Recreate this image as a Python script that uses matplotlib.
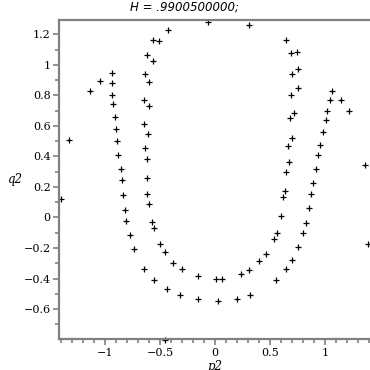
import numpy as np
import matplotlib.pyplot as plt
from matplotlib.ticker import MultipleLocator

# Poincare section points (p2, q2)
p2 = [-0.43, -0.564, -0.512, -0.615, -0.561, -0.939, -0.639, -1.043, -0.939, -0.597,
      -1.136, -0.933, -0.642, -0.924, -0.603, -0.912, -0.642, -0.897, -0.612, -1.327,
      -0.888, -0.636, -0.882, -0.615, -0.857, -0.848, -0.615,
      -1.40, -0.834, -0.615, -0.815, -0.597, -0.806, -0.570, -0.552, -0.77, -0.497,
      -0.733, -0.452, -0.379, -0.642, -0.303, -0.552, -0.434, -0.321, -0.452,
      0.894, 0.639, 0.621, 0.876, 0.857, 0.603, 0.83, 0.567, 0.803, 0.539,
      1.394, 0.757, 0.467, 0.403, 0.703, 0.312, 0.649, 0.233, -0.158, 0.006,
      0.067, 0.558, -0.158, 0.024, 0.203, 0.321,
      -0.067, 0.312, 0.649, 0.694, 0.748, 0.703, 0.757, 0.757, 0.694, 1.061,
      1.048, 1.148, 1.021, 1.221, 0.721, 0.685, 1.012, 0.985, 0.703, 0.667,
      0.958, 0.94, 0.676, 1.367, 0.649, 0.921]
q2 = [1.226, 1.16, 1.154, 1.064, 1.022, 0.947, 0.939, 0.893, 0.878, 0.886,
      0.831, 0.805, 0.772, 0.746, 0.733, 0.66, 0.614, 0.577, 0.549, 0.505,
      0.503, 0.452, 0.41, 0.384, 0.318, 0.246, 0.259,
      0.121, 0.147, 0.154, 0.049, 0.088, -0.024, -0.030, -0.070, -0.114, -0.173,
      -0.208, -0.226, -0.298, -0.34, -0.34, -0.412, -0.471, -0.511, -0.80,
      0.226, 0.174, 0.134, 0.154, 0.062, 0.011, -0.037, -0.103, -0.103, -0.142,
      -0.175, -0.195, -0.239, -0.287, -0.28, -0.346, -0.34, -0.373, -0.386, -0.405,
      -0.405, -0.412, -0.537, -0.55, -0.537, -0.511,
      1.279, 1.259, 1.16, 1.077, 1.081, 0.943, 0.976, 0.851, 0.805, 0.831,
      0.772, 0.772, 0.7, 0.7, 0.687, 0.654, 0.641, 0.562, 0.522, 0.47,
      0.476, 0.41, 0.364, 0.345, 0.299, 0.318]

fig = plt.figure(figsize=(3.7, 3.7), dpi=100)
ax = fig.add_axes([0.1595, 0.083, 0.8405, 0.863])

ax.plot(p2, q2, linestyle="none", marker="+", color="black",
        markersize=5, markeredgewidth=0.9, clip_on=False)

ax.set_xlim(-1.418, 1.41)
ax.set_ylim(-0.798, 1.294)

ax.xaxis.set_major_locator(MultipleLocator(0.5))
ax.xaxis.set_minor_locator(MultipleLocator(0.1))
ax.yaxis.set_major_locator(MultipleLocator(0.2))
ax.yaxis.set_minor_locator(MultipleLocator(0.1))

def fmt(v, pos):
    s = f"{v:g}"
    if abs(v) < 1e-9:
        s = "0"
    return s.replace("-", "\u2212")

ax.xaxis.set_major_formatter(plt.FuncFormatter(fmt))
ax.yaxis.set_major_formatter(plt.FuncFormatter(fmt))

ax.spines["right"].set_visible(False)
for side in ["left", "bottom", "top"]:
    ax.spines[side].set_color("#808080")
    ax.spines[side].set_linewidth(1.6)

ax.tick_params(which="both", direction="out", color="#808080", width=1.2,
               labelsize=8, pad=2)
ax.tick_params(which="major", length=4)
ax.tick_params(which="minor", length=3)
for lab in ax.get_xticklabels() + ax.get_yticklabels():
    lab.set_family("DejaVu Serif")

ax.set_xlabel("p2", fontsize=8.5, family="DejaVu Serif", style="italic")
ax.set_ylabel("q2", fontsize=8.5, family="DejaVu Serif", style="italic", rotation=0)
ax.xaxis.set_label_coords(0.5016, -0.084)
ax.yaxis.set_label_coords(-0.141, 0.5)
ax.yaxis.label.set_va("center")
ax.xaxis.label.set_va("center")
fig.text(0.5, 0.972, "H = .9900500000;", fontsize=8.5, style="italic",
         ha="center", va="baseline")

fig.savefig("out.png", dpi=100)
